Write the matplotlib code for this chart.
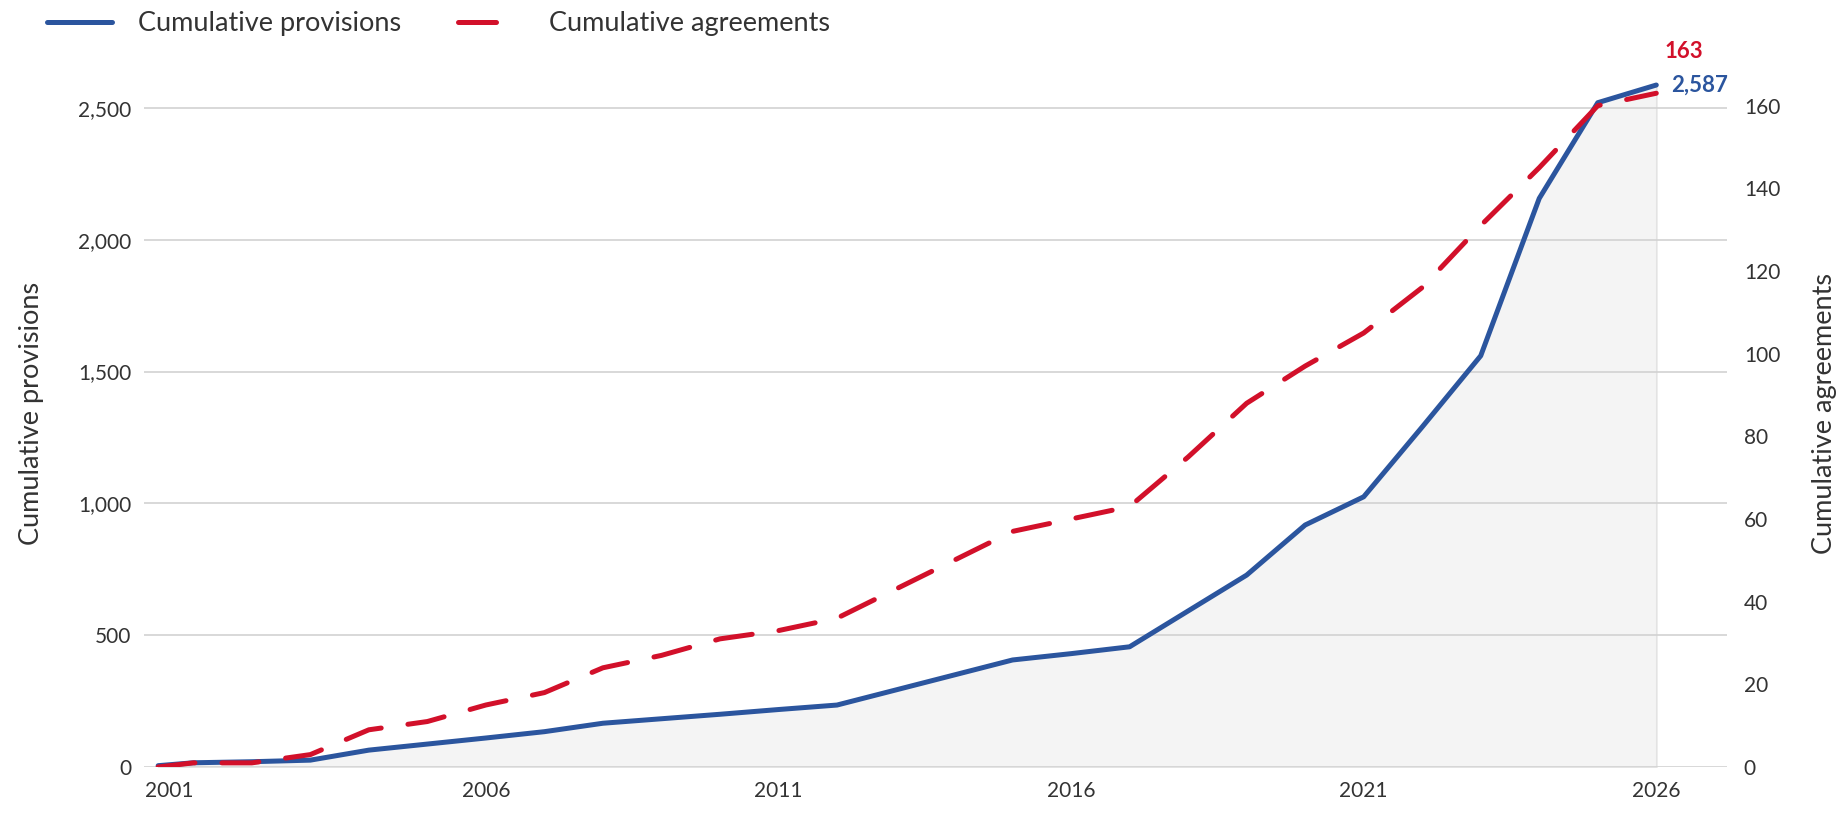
import numpy as np
import matplotlib.pyplot as plt
from matplotlib.lines import Line2D
from matplotlib.ticker import FuncFormatter

# data (first point sits a little before 2001)
years = [2000.4, 2001, 2002, 2003, 2004, 2005, 2006, 2007, 2008, 2009, 2010,
         2011, 2012, 2013, 2014, 2015, 2016, 2017, 2018, 2019, 2020,
         2021, 2022, 2023, 2024, 2025, 2026]
provisions = [5, 16, 20, 26, 64, 87, 110, 134, 166, 183, 200,
              218, 235, 292, 349, 406, 430, 456, 592, 728, 918,
              1025, 1290, 1560, 2157, 2520, 2587]
agreements = [0, 1, 1, 3, 9, 11, 15, 18, 24, 27, 31,
              33, 36, 43, 50, 57, 60, 63, 75, 88, 97,
              105, 116, 131, 145, 160, 163]

left_ticks = [0, 500, 1000, 1500, 2000, 2500]
right_ticks = [0, 20, 40, 60, 80, 100, 120, 140, 160]
year_ticks = [2001, 2006, 2011, 2016, 2021, 2026]

BLUE = "#2B559E"
RED = "#D2102A"
TXT = "#333333"
GRID = "#D2D2D2"

plt.rcParams['font.family'] = ['Lato', 'DejaVu Sans']

fig = plt.figure(figsize=(18.45, 8.15), dpi=100)
ax = fig.add_axes([0.0778, 0.0589, 0.8583, 0.8675])
ax2 = ax.twinx()

ytop = 2682
ratio = 15.68
ax.set_ylim(0, ytop)
ax2.set_ylim(0, ytop / ratio)
ax.set_xlim(2000.15, 2027.21)

# shaded area under provisions
ax.fill_between(years, provisions, 0, facecolor="#F4F4F4", edgecolor="#E3E3E3",
                linewidth=1.2, zorder=0.2)
ax.plot(years, provisions, color=BLUE, lw=3.6, solid_capstyle='round',
        solid_joinstyle='round', zorder=3)
ax2.plot(years, agreements, color=RED, lw=3.6, dashes=(7.4, 5.4),
         dash_capstyle='round', zorder=3)

ax.set_axisbelow(True)
ax.yaxis.grid(True, color=GRID, lw=1.2, zorder=0.5)
ax.set_yticks(left_ticks)
ax.yaxis.set_major_formatter(FuncFormatter(lambda v, p: f"{int(v):,}"))
ax2.set_yticks(right_ticks)
ax.set_xticks(year_ticks)

for a in (ax, ax2):
    for s in a.spines.values():
        s.set_visible(False)
    a.tick_params(length=0, labelsize=15, labelcolor=TXT)
ax.tick_params(axis='y', pad=9)
ax.tick_params(axis='x', pad=10)
ax2.tick_params(axis='y', pad=12)
ax.get_xticklabels()[0].set_horizontalalignment('right')

ax.set_ylabel("Cumulative provisions", fontsize=19.5, color=TXT)
ax2.set_ylabel("Cumulative agreements", fontsize=19.5, color=TXT)
ax.yaxis.set_label_coords(-0.0628, 0.5)
ax2.yaxis.set_label_coords(1.0535, 0.5)

# end labels
ax2.annotate("163", (years[-1], agreements[-1]), xytext=(8, 42),
             textcoords='offset pixels', color=RED, fontsize=16,
             fontweight='bold', ha='left', va='center', annotation_clip=False)
ax.annotate(f"{provisions[-1]:,}", (years[-1], provisions[-1]), xytext=(15, 0),
            textcoords='offset pixels', color=BLUE, fontsize=16,
            fontweight='bold', ha='left', va='center', annotation_clip=False)

handles = [Line2D([], [], color=BLUE, lw=3.6, solid_capstyle='round'),
           Line2D([], [], color=RED, lw=3.6, dashes=(7.6, 20),
                  dash_capstyle='round')]
fig.legend(handles, ["Cumulative provisions", "Cumulative agreements"],
           loc='center left', bbox_to_anchor=(0.0255, 0.971), ncol=2,
           frameon=False, fontsize=19.5, handlelength=2.4, handletextpad=0.95,
           columnspacing=2.1, borderpad=0, borderaxespad=0, labelcolor=TXT)

plt.savefig("out.png", dpi=100)
